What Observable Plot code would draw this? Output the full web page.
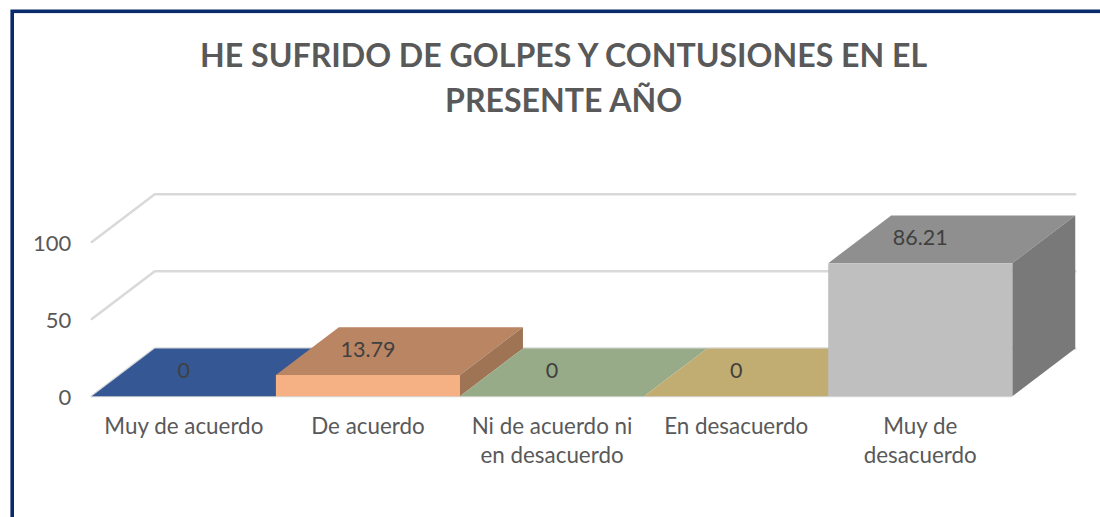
<!DOCTYPE html>
<html><head><meta charset="utf-8">
<script src="https://cdn.jsdelivr.net/npm/d3@7"></script>
<script src="https://cdn.jsdelivr.net/npm/@observablehq/plot@0.6"></script>
<style>html,body{margin:0;padding:0;background:#fff;overflow:hidden}</style>
</head><body><div id="chart"></div>
<script>
const categories = ["Muy de acuerdo","De acuerdo","Ni de acuerdo ni\nen desacuerdo","En desacuerdo","Muy de\ndesacuerdo"];
const values = [0,13.79,0,0,86.21];
const labels = ["0","13.79","0","0","86.21"];
const frontColors = ["#355895","#F5B183","#97AB88","#C1AD72","#BFBFBF"];
const topColors = ["#355895","#B98563","#97AB88","#C1AD72","#8F8F8F"];
const sideColors = ["#355895","#9E7454","#97AB88","#C1AD72","#797979"];
const yTicks = [0,50,100];
const titleText = "HE SUFRIDO DE GOLPES Y CONTUSIONES EN EL\nPRESENTE AÑO";

// oblique depth of the 3D box, in data units of each axis
const depthX = 0.342, depthY = 30.9;

const faces = [];
function face(id, fill, corners){ for (const [x,y] of corners) faces.push({id,fill,x,y}); }
values.forEach((v,i)=>{
  const a=i-0.5,b=i+0.5;
  face(`top${i}`,topColors[i],[[a,v],[b,v],[b+depthX,v+depthY],[a+depthX,v+depthY]]);
  if (v>0){
    face(`side${i}`,sideColors[i],[[b,0],[b+depthX,depthY],[b+depthX,v+depthY],[b,v]]);
    face(`front${i}`,frontColors[i],[[a,0],[b,0],[b,v],[a,v]]);
  }
});
const grid = [];
yTicks.forEach(t=>{
  grid.push({t,x:-0.5,y:t},{t,x:-0.5+depthX,y:t+depthY},{t,x:4.5+depthX,y:t+depthY});
});
const rows = categories.map((c,i)=>({i,c,v:values[i],label:labels[i]}));

const plot = Plot.plot({
  width:1100,height:517,
  marginLeft:91.3,marginRight:88.2,marginTop:0,marginBottom:121.3,
  style:{background:"#fff",fontFamily:"Lato, sans-serif"},
  x:{domain:[-0.5,4.5],label:null},
  y:{domain:[0,100],range:[395.7,241.4],label:null},
  marks:[
    Plot.frame({stroke:"#0B2A6B",strokeWidth:3.6,insetLeft:-79.6,insetTop:10.8,insetRight:-120,insetBottom:-160}),
    Plot.text([titleText],{frameAnchor:"top-left",dx:471.8,dy:35,lineHeight:1.4,fontSize:32.1,fontWeight:700,fill:"#595959",textAnchor:"middle",lineAnchor:"top"}),
    Plot.line(grid,{x:"x",y:"y",z:"t",stroke:"#D9D9D9",strokeWidth:2.5}),
    Plot.ruleY([0],{x1:-0.5,x2:4.5,stroke:"#D9D9D9",strokeWidth:2}),
    Plot.line(faces,{x:"x",y:"y",z:"id",fill:"fill",stroke:null,curve:"linear-closed"}),
    Plot.text(rows,{x:"i",y:d=>d.v+depthY/2,text:"label",fontSize:21.5,fill:"#404040",dy:-1}),
    Plot.axisY({ticks:yTicks,tickSize:0,tickPadding:20.5,fontSize:22,fill:"#595959",label:null,tickFormat:d=>d,dy:2}),
    Plot.axisX({ticks:[0,1,2,3,4],tickSize:0,tickPadding:17,fontSize:22.4,lineHeight:1.3,fill:"#595959",label:null,
      tickFormat:i=>categories[i],textAnchor:"middle",lineAnchor:"top"})
  ]
});
document.getElementById("chart").appendChild(plot);
</script></body></html>
